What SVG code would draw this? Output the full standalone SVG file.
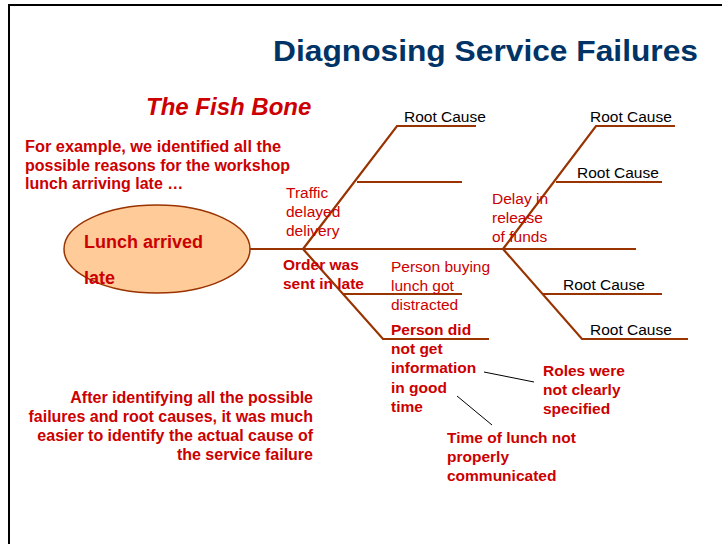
<svg xmlns="http://www.w3.org/2000/svg" width="722" height="544" viewBox="0 0 722 544">
<style>
text{font-family:"Liberation Sans",Arial,sans-serif}
.t{font-size:29px;font-weight:bold;fill:#003366}
.fb{font-size:24px;font-weight:bold;font-style:italic;fill:#CC0000}
.b{font-size:16px;font-weight:bold;fill:#CC0000}
.r{font-size:15.5px;fill:#CC0000}
.rb{font-size:15.5px;font-weight:bold;fill:#CC0000}
.k{font-size:15.5px;fill:#000}
.bone{stroke:#993300;stroke-width:2.2;fill:none}
.thin{stroke:#000;stroke-width:1;fill:none}
</style>
<rect width="722" height="544" fill="#fff"/>
<path d="M9,544 V5 H722" fill="none" stroke="#000" stroke-width="2"/>
<text class="t" x="273" y="61" textLength="425" lengthAdjust="spacingAndGlyphs">Diagnosing Service Failures</text>
<text class="fb" x="146" y="115">The Fish Bone</text>
<g id="intro">
<text class="b" x="25" y="152" textLength="256" lengthAdjust="spacingAndGlyphs">For example, we identified all  the</text>
<text class="b" x="25" y="171">possible reasons for the workshop</text>
<text class="b" x="25" y="189">lunch arriving late …</text>
</g>
<g id="connectors">
<path class="bone" d="M250,249 H636"/>
<path class="bone" d="M303,249 L397,126 H476"/>
<path class="bone" d="M357,182 H462"/>
<path class="bone" d="M303,249 L383,339 H489"/>
<path class="bone" d="M343,294 H462"/>
<path class="bone" d="M503,249 L596,126 H675"/>
<path class="bone" d="M556,182 H662"/>
<path class="bone" d="M503,249 L582,339 H688"/>
<path class="bone" d="M542,294 H662"/>
<path class="thin" d="M484,372 L534,382"/>
<path class="thin" d="M457,396 L492,425"/>
</g>
<g id="head">
<ellipse cx="157" cy="249" rx="93" ry="44" fill="#FFCC99" stroke="#993300" stroke-width="1.5"/>
<text class="b" x="84" y="248" style="font-size:18px">Lunch arrived</text>
<text class="b" x="84" y="284" style="font-size:18px">late</text>
</g>
<g id="rc1"><text class="k" x="404" y="122">Root Cause</text></g>
<g id="rc2"><text class="k" x="590" y="122">Root Cause</text></g>
<g id="rc3"><text class="k" x="577" y="178">Root Cause</text></g>
<g id="rc4"><text class="k" x="563" y="290">Root Cause</text></g>
<g id="rc5"><text class="k" x="590" y="335">Root Cause</text></g>
<g id="traffic">
<text class="r" x="286" y="198">Traffic</text>
<text class="r" x="286" y="217">delayed</text>
<text class="r" x="286" y="236">delivery</text>
</g>
<g id="delay">
<text class="r" x="492" y="204">Delay in</text>
<text class="r" x="492" y="223">release</text>
<text class="r" x="492" y="242">of funds</text>
</g>
<g id="order">
<text class="rb" x="283" y="270">Order was</text>
<text class="rb" x="283" y="289">sent in late</text>
</g>
<g id="buying">
<text class="r" x="391" y="272">Person buying</text>
<text class="r" x="391" y="291">lunch got</text>
<text class="r" x="391" y="310">distracted</text>
</g>
<g id="info">
<text class="rb" x="391" y="335">Person did</text>
<text class="rb" x="391" y="354">not get</text>
<text class="rb" x="391" y="373">information</text>
<text class="rb" x="391" y="393">in good</text>
<text class="rb" x="391" y="412">time</text>
</g>
<g id="roles">
<text class="rb" x="543" y="376">Roles were</text>
<text class="rb" x="543" y="395">not clearly</text>
<text class="rb" x="543" y="414">specified</text>
</g>
<g id="timeoflunch">
<text class="rb" x="447" y="443">Time of lunch not</text>
<text class="rb" x="447" y="462">properly</text>
<text class="rb" x="447" y="481">communicated</text>
</g>
<g id="summary" text-anchor="end">
<text class="b" x="313" y="403">After identifying all the possible</text>
<text class="b" x="313" y="422">failures and root causes, it was much</text>
<text class="b" x="313" y="441">easier to identify the actual cause of</text>
<text class="b" x="313" y="460">the service failure</text>
</g>
</svg>
